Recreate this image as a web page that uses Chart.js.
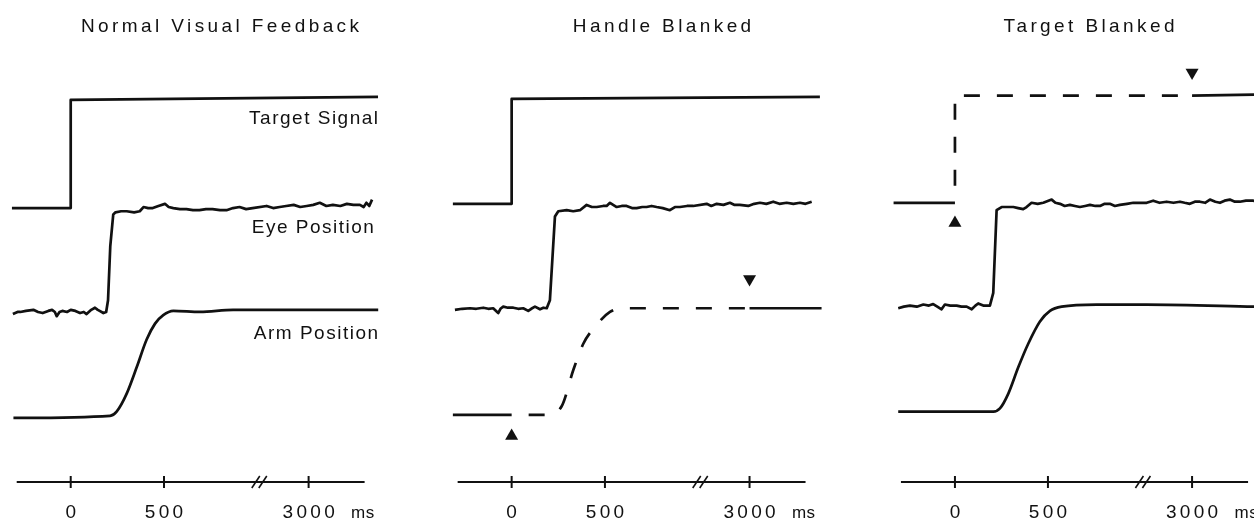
<!DOCTYPE html>
<html>
<head>
<meta charset="utf-8">
<script src="https://cdn.jsdelivr.net/npm/chart.js@4.4.1/dist/chart.umd.min.js"></script>
<style>
  body { margin: 0; background: #fff; }
  #wrap { position: relative; width: 1254px; height: 521px; overflow: hidden; }
  canvas { position: absolute; top: -10px; }
</style>
</head>
<body>
<div id="wrap">
  <canvas id="c1" width="440" height="541" style="left:-10px"></canvas>
  <canvas id="c2" width="440" height="541" style="left:430px"></canvas>
  <canvas id="c3" width="394" height="541" style="left:870px"></canvas>
</div>
<script>
// text
const panelTitles = ['Normal Visual Feedback', 'Handle Blanked', 'Target Blanked']
const traceNames = ['Target Signal', 'Eye Position', 'Arm Position']
const tickTimes = [0, 500, 3000]
const tickLabels = ['0', '500', '3000']
const timeUnit = 'ms'

// time axis is broken: nothing between these two times is shown
const breakFrom = 1000
const breakTo = 2725
const toAxis = t => (t > breakFrom ? t - (breakTo - breakFrom) : t)

// [time ms, position] - positions in trace units (arm start = 0)
const target1 = [[-315, 1.98], [0, 1.98], [0, 3.0], [3372, 3.03]]
const eye1 = [[-310, 0.98], [-285, 1.0], [-270, 1.0], [-240, 1.01], [-200, 1.02], [-175, 1.0], [-150, 0.99],
  [-120, 1.01], [-100, 1.02], [-85, 1.0], [-75, 0.96], [-60, 1.0], [-45, 1.01], [-20, 1.0], [0, 1.02],
  [25, 1.01], [50, 0.99], [70, 1.0], [85, 0.98], [110, 1.02], [130, 1.04], [145, 1.02], [155, 1.01],
  [175, 0.99], [190, 1.0], [200, 1.11], [212, 1.62], [228, 1.92], [240, 1.94], [270, 1.95], [300, 1.95],
  [340, 1.94], [370, 1.95], [390, 1.99], [415, 1.98], [440, 1.98], [470, 2.0], [505, 2.02], [525, 1.99],
  [550, 1.98], [585, 1.97], [620, 1.97], [655, 1.96], [690, 1.96], [725, 1.97], [760, 1.97], [800, 1.96],
  [835, 1.96], [870, 1.98], [905, 1.99], [940, 1.97], [975, 1.98], [2775, 2.0], [2810, 1.98], [2845, 1.99],
  [2880, 2.0], [2920, 2.01], [2955, 1.99], [2990, 2.0], [3025, 2.01], [3060, 2.03], [3095, 2.0], [3130, 2.01],
  [3170, 2.0], [3205, 2.02], [3240, 2.01], [3275, 2.01], [3295, 1.99], [3310, 2.03], [3325, 2.0], [3340, 2.06]]
const arm1 = [[-307, 0.0], [211, 0.02], [246, 0.06], [300, 0.23], [354, 0.48], [407, 0.74], [452, 0.89],
  [496, 0.97], [550, 1.01], [693, 1.0], [870, 1.02], [3373, 1.02]]

const target2 = [[-315, 2.02], [0, 2.02], [0, 3.01], [3377, 3.03]]
const eye2 = [[-304, 1.02], [-265, 1.03], [-223, 1.035], [-190, 1.03], [-152, 1.04], [-125, 1.03], [-99, 1.035],
  [-72, 0.99], [-60, 1.03], [-45, 1.05], [-20, 1.04], [9, 1.04], [35, 1.03], [62, 1.035], [89, 1.01],
  [105, 1.03], [125, 1.05], [152, 1.025], [170, 1.04], [188, 1.035], [205, 1.11], [232, 1.9], [250, 1.95],
  [295, 1.96], [330, 1.95], [366, 1.96], [402, 2.01], [430, 1.99], [456, 1.99], [490, 2.0], [509, 2.0],
  [527, 2.03], [563, 1.99], [590, 2.0], [616, 2.0], [645, 1.98], [670, 1.98], [700, 1.99], [723, 1.99],
  [750, 2.0], [777, 1.99], [810, 1.98], [848, 1.96], [875, 1.99], [902, 1.99], [940, 2.0], [973, 2.0],
  [2770, 2.02], [2795, 2.0], [2824, 2.02], [2860, 2.01], [2895, 2.03], [2920, 2.01], [2948, 2.01], [2993, 2.0],
  [3025, 2.02], [3056, 2.03], [3090, 2.02], [3127, 2.04], [3160, 2.02], [3199, 2.03], [3235, 2.02],
  [3270, 2.03], [3300, 2.02], [3333, 2.04]]
const arm2 = [[-315, 0.03], [0, 0.03], [188, 0.03], [268, 0.11], [330, 0.45], [384, 0.70], [446, 0.86],
  [527, 1.0], [590, 1.035], [3000, 1.035], [3386, 1.035]]
const blankOn2 = [[0, -0.17]]
const blankOff2 = [[3000, 1.31]]

const target3 = [[-330, 2.03], [0, 2.03], [0, 3.04], [3000, 3.04], [3345, 3.05]]
const eye3 = [[-305, 1.035], [-275, 1.05], [-242, 1.06], [-205, 1.05], [-170, 1.07], [-140, 1.06], [-117, 1.075],
  [-95, 1.05], [-72, 1.025], [-54, 1.07], [-25, 1.06], [9, 1.06], [35, 1.05], [63, 1.05], [90, 1.025],
  [110, 1.06], [125, 1.08], [152, 1.06], [188, 1.06], [206, 1.18], [224, 1.96], [251, 1.99], [314, 1.99],
  [340, 1.98], [367, 1.97], [385, 1.99], [412, 2.03], [445, 2.02], [475, 2.03], [520, 2.06], [540, 2.03],
  [565, 2.02], [590, 2.0], [618, 2.01], [645, 2.0], [672, 1.99], [700, 2.0], [726, 2.01], [755, 2.0],
  [780, 2.0], [805, 2.02], [833, 2.02], [860, 2.0], [887, 2.01], [925, 2.02], [959, 2.03], [2756, 2.03],
  [2791, 2.05], [2825, 2.03], [2863, 2.04], [2900, 2.03], [2935, 2.04], [2960, 2.03], [2988, 2.02],
  [3015, 2.04], [3042, 2.04], [3070, 2.03], [3096, 2.06], [3125, 2.04], [3150, 2.03], [3175, 2.05],
  [3203, 2.06], [3230, 2.04], [3257, 2.04], [3290, 2.05], [3329, 2.05], [3345, 2.04]]
const arm3 = [[-305, 0.06], [206, 0.06], [242, 0.09], [287, 0.23], [341, 0.48], [394, 0.70], [457, 0.91],
  [511, 1.01], [574, 1.05], [762, 1.07], [2756, 1.07], [3345, 1.05]]
const blankOn3 = [[0, 1.84]]
const blankOff3 = [[3000, 3.26]]

const INK = '#111'
const FONT = '"Liberation Sans", Arial, sans-serif'
const axisLevel = -0.604
const tickLabelLevel = -0.943

function toPoints(arr) {
  return arr.map(p => ({ x: toAxis(p[0]), y: p[1] }))
}

function trace(arr, extra) {
  return Object.assign({
    data: toPoints(arr),
    borderColor: INK,
    borderWidth: 2.7,
    pointRadius: 0,
    tension: 0,
    fill: false,
    borderJoinStyle: 'round',
    borderDashOffset: 16
  }, extra)
}

// dashed only while the signal is blanked
function blankedSegment(on, off) {
  return {
    borderDash: ctx => (ctx.p0.parsed.x >= toAxis(on) && ctx.p1.parsed.x <= toAxis(off) ? [16, 17] : undefined)
  }
}

function marker(arr, rotation) {
  return {
    data: toPoints(arr),
    showLine: false,
    pointStyle: 'triangle',
    pointRadius: 7.5,
    pointRotation: rotation,
    pointBackgroundColor: INK,
    pointBorderWidth: 0
  }
}

function spacedText(ctx, text, x, y, align, spacing) {
  ctx.letterSpacing = spacing + 'px'
  ctx.textAlign = align
  let dx = 0
  if (align === 'center') dx = spacing / 2
  if (align === 'right') dx = spacing
  ctx.fillText(text, x + dx, y)
}

const figurePlugin = {
  id: 'figure',
  afterDatasetsDraw(chart, args, o) {
    const ctx = chart.ctx
    const area = chart.chartArea
    const xs = chart.scales.x
    const ys = chart.scales.y
    ctx.save()
    ctx.fillStyle = INK
    ctx.strokeStyle = INK
    ctx.textBaseline = 'alphabetic'

    ctx.font = '19px ' + FONT
    spacedText(ctx, o.title, area.left + o.titleX, area.top + 32, 'center', 3.4)

    if (o.labels) {
      o.labels.forEach(l => {
        spacedText(ctx, l.text, xs.getPixelForValue(toAxis(l.t)), ys.getPixelForValue(l.v), 'right', 1.5)
      })
    }

    // time axis with break
    const y0 = ys.getPixelForValue(axisLevel)
    const px = tickTimes.map(t => xs.getPixelForValue(toAxis(t)))
    const left = px[0] - 54
    const right = px[px.length - 1] + 56
    ctx.lineWidth = 1.8
    ctx.beginPath()
    ctx.moveTo(left, y0)
    ctx.lineTo(right, y0)
    ctx.stroke()
    ctx.lineWidth = 2
    px.forEach(x => {
      ctx.beginPath()
      ctx.moveTo(x, y0 - 6)
      ctx.lineTo(x, y0 + 6)
      ctx.stroke()
    })
    const bx = xs.getPixelForValue(toAxis(breakFrom)) + 2
    ctx.lineWidth = 1.6
    ;[-3.5, 3.5].forEach(d => {
      ctx.beginPath()
      ctx.moveTo(bx + d - 4, y0 + 6)
      ctx.lineTo(bx + d + 4, y0 - 6)
      ctx.stroke()
    })

    const yl = ys.getPixelForValue(tickLabelLevel)
    tickLabels.forEach((lab, i) => spacedText(ctx, lab, px[i], yl, 'center', 3.3))
    ctx.font = '17px ' + FONT
    spacedText(ctx, timeUnit, px[px.length - 1] + 54, yl, 'center', 0.5)
    ctx.restore()
  }
}

const panels = [
  {
    id: 'c1', title: panelTitles[0], titleX: 220, xMin: -379, xMax: 1872,
    datasets: [trace(target1), trace(eye1), trace(arm1, { cubicInterpolationMode: 'monotone' })],
    labels: [
      { text: traceNames[0], t: 3372, v: 2.774 },
      { text: traceNames[1], t: 3350, v: 1.742 },
      { text: traceNames[2], t: 3372, v: 0.745 }
    ]
  },
  {
    id: 'c2', title: panelTitles[1], titleX: 222, xMin: -384, xMax: 1867,
    datasets: [
      trace(target2), trace(eye2),
      trace(arm2, { cubicInterpolationMode: 'monotone', segment: blankedSegment(blankOn2[0][0], blankOff2[0][0]) }),
      marker(blankOn2, 0), marker(blankOff2, 180)
    ]
  },
  {
    id: 'c3', title: panelTitles[2], titleX: 209, xMin: -403, xMax: 1608,
    datasets: [
      trace(target3, { segment: blankedSegment(blankOn3[0][0], blankOff3[0][0]) }),
      trace(eye3), trace(arm3, { cubicInterpolationMode: 'monotone' }),
      marker(blankOn3, 0), marker(blankOff3, 180)
    ]
  }
]

panels.forEach(p => {
  new Chart(document.getElementById(p.id), {
    type: 'line',
    data: { datasets: p.datasets },
    options: {
      responsive: false,
      animation: false,
      events: [],
      // 10px margin round the plot area so point markers do not shrink it
      layout: { padding: 10 },
      scales: {
        x: { type: 'linear', min: p.xMin, max: p.xMax, display: false },
        y: { type: 'linear', min: -0.972, max: 3.943, display: false }
      },
      plugins: {
        legend: { display: false },
        tooltip: { enabled: false },
        figure: { title: p.title, titleX: p.titleX, labels: p.labels }
      }
    },
    plugins: [figurePlugin]
  })
})
</script>
</body>
</html>
